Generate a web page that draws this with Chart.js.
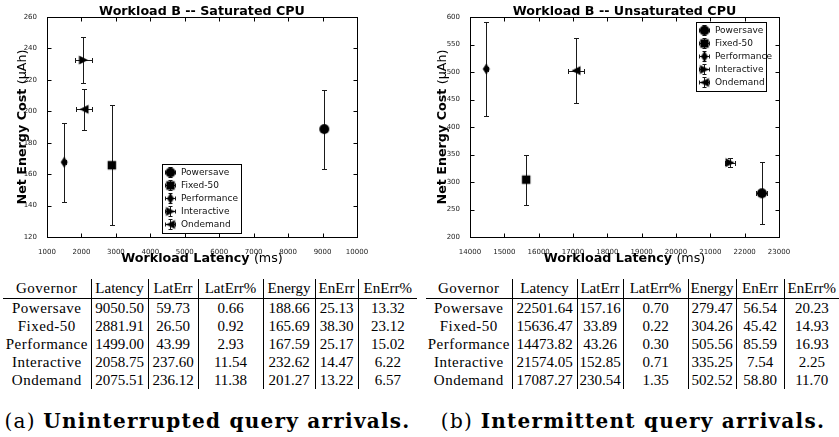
<!DOCTYPE html>
<html>
<head>
<meta charset="utf-8">
<script src="https://cdn.jsdelivr.net/npm/chart.js@4.4.0/dist/chart.umd.min.js"></script>
<style>
  html, body { margin: 0; padding: 0; background: #fff; }
  #page { position: relative; width: 839px; height: 437px; overflow: hidden; }
  #page canvas { position: absolute; top: 0; display: block; }
  #satCanvas { left: 0; }
  #unsCanvas { left: 420px; }
  table.gov {
    position: absolute; top: 279px; border-collapse: collapse; table-layout: fixed;
    font-family: "Liberation Serif", serif; font-size: 15px; color: #000;
  }
  table.gov td { padding: 0; text-align: center; white-space: nowrap; height: 18px; line-height: 18px; }
  table.gov tr.head td { height: 19px; line-height: 19px; border-bottom: 1px solid #000; }
  table.gov td + td { border-left: 1px solid #000; }
  table.gov td.name { letter-spacing: 0.5px; }
  .cap { position: absolute; top: 409px; font-family: "DejaVu Serif", serif; font-size: 20px; letter-spacing: 1.25px; line-height: 24px; text-align: center; white-space: nowrap; color: #000; }
</style>
</head>
<body>
<div id="page">
  <canvas id="satCanvas" width="420" height="265"></canvas>
  <canvas id="unsCanvas" width="419" height="265"></canvas>
  <table class="gov" id="satTable" style="left:3px;width:414px"></table>
  <table class="gov" id="unsTable" style="left:426px;width:413px"></table>
  <div class="cap" style="left:0;width:415px">(a) <b>Uninterrupted query arrivals.</b></div>
  <div class="cap" style="left:426px;width:414px">(b) <b>Intermittent query arrivals.</b></div>
</div>
<script>
// ---- data ----
const governors = ["Powersave", "Fixed-50", "Performance", "Interactive", "Ondemand"];
const columns = ["Governor", "Latency", "LatErr", "LatErr%", "Energy", "EnErr", "EnErr%"];

// Workload B, saturated CPU (uninterrupted arrivals)
const satLatency   = [9050.50, 2881.91, 1499.00, 2058.75, 2075.51];
const satLatErr    = [59.73, 26.50, 43.99, 237.60, 236.12];
const satLatErrPct = [0.66, 0.92, 2.93, 11.54, 11.38];
const satEnergy    = [188.66, 165.69, 167.59, 232.62, 201.27];
const satEnErr     = [25.13, 38.30, 25.17, 14.47, 13.22];
const satEnErrPct  = [13.32, 23.12, 15.02, 6.22, 6.57];

// Workload B, unsaturated CPU (intermittent arrivals)
const unsLatency   = [22501.64, 15636.47, 14473.82, 21574.05, 17087.27];
const unsLatErr    = [157.16, 33.89, 43.26, 152.85, 230.54];
const unsLatErrPct = [0.70, 0.22, 0.30, 0.71, 1.35];
const unsEnergy    = [279.47, 304.26, 505.56, 335.25, 502.52];
const unsEnErr     = [56.54, 45.42, 85.59, 7.54, 58.80];
const unsEnErrPct  = [20.23, 14.93, 16.93, 2.25, 11.70];

const satXTicks = [1000, 2000, 3000, 4000, 5000, 6000, 7000, 8000, 9000, 10000];
const satYTicks = [120, 140, 160, 180, 200, 220, 240, 260];
const unsXTicks = [14000, 15000, 16000, 17000, 18000, 19000, 20000, 21000, 22000, 23000];
const unsYTicks = [200, 250, 300, 350, 400, 450, 500, 550, 600];

// ---- tables ----
function fillTable(id, cols) {
  const widths = id === "satTable" ? [88, 57, 50, 65, 52, 43, 59] : [86, 65, 46, 65, 48, 48, 55];
  const t = document.getElementById(id);
  let html = "<colgroup>" + widths.map(w => `<col style="width:${w}px">`).join("") + "</colgroup>";
  html += '<tr class="head">' + columns.map((c, i) => `<td${i === 0 ? ' class="name"' : ""}>${c}</td>`).join("") + "</tr>";
  governors.forEach((g, r) => {
    html += "<tr><td class=\"name\">" + g + "</td>" + cols.map(a => `<td>${a[r].toFixed(2)}</td>`).join("") + "</tr>";
  });
  t.innerHTML = html;
}
fillTable("satTable", [satLatency, satLatErr, satLatErrPct, satEnergy, satEnErr, satEnErrPct]);
fillTable("unsTable", [unsLatency, unsLatErr, unsLatErrPct, unsEnergy, unsEnErr, unsEnErrPct]);

// ---- markers ----
function makeMarker(kind) {
  const c = document.createElement("canvas");
  c.width = 12; c.height = 12;
  const g = c.getContext("2d");
  const m = 6;
  g.fillStyle = "#000";
  g.beginPath();
  if (kind === "circle") g.arc(m, m, 5, 0, Math.PI * 2);
  else if (kind === "square") g.rect(m - 4.25, m - 4.25, 8.5, 8.5);
  else if (kind === "thinDiamond") { g.moveTo(m, m - 5.5); g.lineTo(m + 3.5, m); g.lineTo(m, m + 5.5); g.lineTo(m - 3.5, m); }
  else if (kind === "triRight") { g.moveTo(m + 4.5, m); g.lineTo(m - 4.5, m - 4.5); g.lineTo(m - 4.5, m + 4.5); }
  else if (kind === "triLeft") { g.moveTo(m - 4.5, m); g.lineTo(m + 4.5, m - 4.5); g.lineTo(m + 4.5, m + 4.5); }
  g.closePath();
  g.fill();
  return c;
}
const markers = ["circle", "square", "thinDiamond", "triRight", "triLeft"].map(makeMarker);

// ---- plugins ----
const errorBars = {
  id: "errorBars",
  beforeDatasetsDraw(chart) {
    const { ctx, scales: { x, y } } = chart;
    ctx.save();
    ctx.strokeStyle = "#1a1a1a";
    ctx.lineWidth = 1;
    chart.data.datasets.forEach(ds => {
      const p = ds.data[0];
      const cx = Math.round(x.getPixelForValue(p.x)) + 0.5;
      const cy = Math.round(y.getPixelForValue(p.y)) + 0.5;
      const x0 = Math.round(x.getPixelForValue(p.x - ds.xErr)) + 0.5;
      const x1 = Math.round(x.getPixelForValue(p.x + ds.xErr)) + 0.5;
      const y0 = Math.round(y.getPixelForValue(p.y - ds.yErr)) + 0.5;
      const y1 = Math.round(y.getPixelForValue(p.y + ds.yErr)) + 0.5;
      const cap = 2.5;
      ctx.beginPath();
      ctx.moveTo(cx, y0); ctx.lineTo(cx, y1);
      ctx.moveTo(cx - cap, y0); ctx.lineTo(cx + cap, y0);
      ctx.moveTo(cx - cap, y1); ctx.lineTo(cx + cap, y1);
      ctx.moveTo(x0, cy); ctx.lineTo(x1, cy);
      ctx.moveTo(x0, cy - cap); ctx.lineTo(x0, cy + cap);
      ctx.moveTo(x1, cy - cap); ctx.lineTo(x1, cy + cap);
      ctx.stroke();
    });
    ctx.restore();
  }
};

const frameTicks = {
  id: "frameTicks",
  afterDraw(chart) {
    const { ctx, chartArea: a, scales: { x, y } } = chart;
    const L = Math.round(a.left) + 0.5, R = Math.round(a.right) + 0.5;
    const T = Math.round(a.top) + 0.5, B = Math.round(a.bottom) + 0.5;
    const len = 4;
    ctx.save();
    ctx.strokeStyle = "#000";
    ctx.lineWidth = 1;
    ctx.beginPath();
    x.ticks.forEach(t => {
      const px = Math.round(x.getPixelForValue(t.value)) + 0.5;
      ctx.moveTo(px, B); ctx.lineTo(px, B - len);
      ctx.moveTo(px, T); ctx.lineTo(px, T + len);
    });
    y.ticks.forEach(t => {
      const py = Math.round(y.getPixelForValue(t.value)) + 0.5;
      ctx.moveTo(L, py); ctx.lineTo(L + len, py);
      ctx.moveTo(R, py); ctx.lineTo(R - len, py);
    });
    ctx.stroke();
    ctx.strokeRect(L, T, R - L, B - T);
    ctx.restore();
  }
};

function drawMixed(ctx, parts, cx, cy) {
  let total = 0;
  parts.forEach(p => { ctx.font = p.font; p.w = ctx.measureText(p.text).width; total += p.w; });
  let xx = cx - total / 2;
  ctx.textAlign = "left";
  ctx.textBaseline = "alphabetic";
  parts.forEach(p => { ctx.font = p.font; ctx.fillText(p.text, xx, cy); xx += p.w; });
}

const BOLD = 'bold 12.7px "DejaVu Sans"';
const NORM = '12.7px "DejaVu Sans"';

const axisTitles = {
  id: "axisTitles",
  afterDraw(chart, args, opts) {
    const { ctx, chartArea: a } = chart;
    const mid = (a.left + a.right) / 2;
    ctx.save();
    ctx.fillStyle = "#000";
    drawMixed(ctx, [{ text: opts.title, font: BOLD }], mid, 14.5);
    drawMixed(ctx, [{ text: "Workload Latency ", font: BOLD }, { text: "(ms)", font: NORM }], mid, a.bottom + 25);
    ctx.translate(25.5, (a.top + a.bottom) / 2);
    ctx.rotate(-Math.PI / 2);
    drawMixed(ctx, [{ text: "Net Energy Cost ", font: BOLD }, { text: "(\u03bcAh)", font: NORM }], 0, 0);
    ctx.restore();
  }
};

const boxLegend = {
  id: "boxLegend",
  afterDraw(chart, args, opts) {
    const { ctx } = chart;
    ctx.save();
    ctx.fillStyle = "#fff";
    ctx.fillRect(opts.left, opts.top, opts.width, opts.height);
    ctx.strokeStyle = "#000";
    ctx.lineWidth = 1;
    ctx.strokeRect(opts.left + 0.5, opts.top + 0.5, opts.width, opts.height);
    ctx.font = '9px "DejaVu Sans"';
    ctx.textBaseline = "middle";
    ctx.textAlign = "left";
    chart.data.datasets.forEach((ds, i) => {
      const cy = Math.round(opts.top + 7.5 + i * 13.2) + 0.5;
      const cx = opts.left + 8.5;
      ctx.strokeStyle = "#1a1a1a";
      ctx.beginPath();
      ctx.moveTo(cx - 5, cy); ctx.lineTo(cx + 5, cy);
      ctx.moveTo(cx, cy - 5); ctx.lineTo(cx, cy + 5);
      ctx.moveTo(cx - 5, cy - 2); ctx.lineTo(cx - 5, cy + 2);
      ctx.moveTo(cx + 5, cy - 2); ctx.lineTo(cx + 5, cy + 2);
      ctx.moveTo(cx - 2, cy - 5); ctx.lineTo(cx + 2, cy - 5);
      ctx.moveTo(cx - 2, cy + 5); ctx.lineTo(cx + 2, cy + 5);
      ctx.stroke();
      const img = ds.pointStyle;
      ctx.drawImage(img, cx - img.width / 2, cy - img.height / 2);
      ctx.fillStyle = "#111";
      ctx.fillText(ds.label, opts.left + 19, cy);
    });
    ctx.restore();
  }
};

Chart.defaults.font.family = '"DejaVu Sans"';

function makeChart(id, title, lat, latErr, en, enErr, xTicks, yTicks, yWidth, padRight, legendBox) {
  const datasets = governors.map((g, i) => ({
    label: g,
    data: [{ x: lat[i], y: en[i] }],
    xErr: latErr[i],
    yErr: enErr[i],
    pointStyle: markers[i],
    pointRadius: 5,
    showLine: false
  }));
  return new Chart(document.getElementById(id), {
    type: "scatter",
    data: { datasets },
    options: {
      responsive: false,
      animation: false,
      devicePixelRatio: 1,
      layout: { padding: { top: 17, right: padRight, left: 0, bottom: 0 } },
      plugins: {
        legend: { display: false },
        title: { display: false },
        tooltip: { enabled: false },
        axisTitles: { title },
        boxLegend: legendBox
      },
      scales: {
        x: {
          type: "linear",
          min: xTicks[0],
          max: xTicks[xTicks.length - 1],
          grid: { display: false },
          border: { display: false },
          ticks: { font: { size: 7 }, color: "#222", padding: 3, autoSkip: false, maxRotation: 0, callback: v => String(v) },
          afterBuildTicks: s => { s.ticks = xTicks.map(v => ({ value: v })); },
          afterFit: s => { s.height = 28; }
        },
        y: {
          type: "linear",
          min: yTicks[0],
          max: yTicks[yTicks.length - 1],
          grid: { display: false },
          border: { display: false },
          ticks: { font: { size: 7 }, color: "#222", padding: 2, callback: v => String(v) },
          afterBuildTicks: s => { s.ticks = yTicks.map(v => ({ value: v })); },
          afterFit: s => { s.width = yWidth; }
        }
      }
    },
    plugins: [errorBars, frameTicks, axisTitles, boxLegend]
  });
}

makeChart("satCanvas", "Workload B -- Saturated CPU", satLatency, satLatErr, satEnergy, satEnErr,
  satXTicks, satYTicks, 47, 63, { left: 162, top: 164, width: 79, height: 69 });
makeChart("unsCanvas", "Workload B -- Unsaturated CPU", unsLatency, unsLatErr, unsEnergy, unsEnErr,
  unsXTicks, unsYTicks, 50, 60, { left: 276, top: 22, width: 70, height: 69 });
</script>
</body>
</html>
